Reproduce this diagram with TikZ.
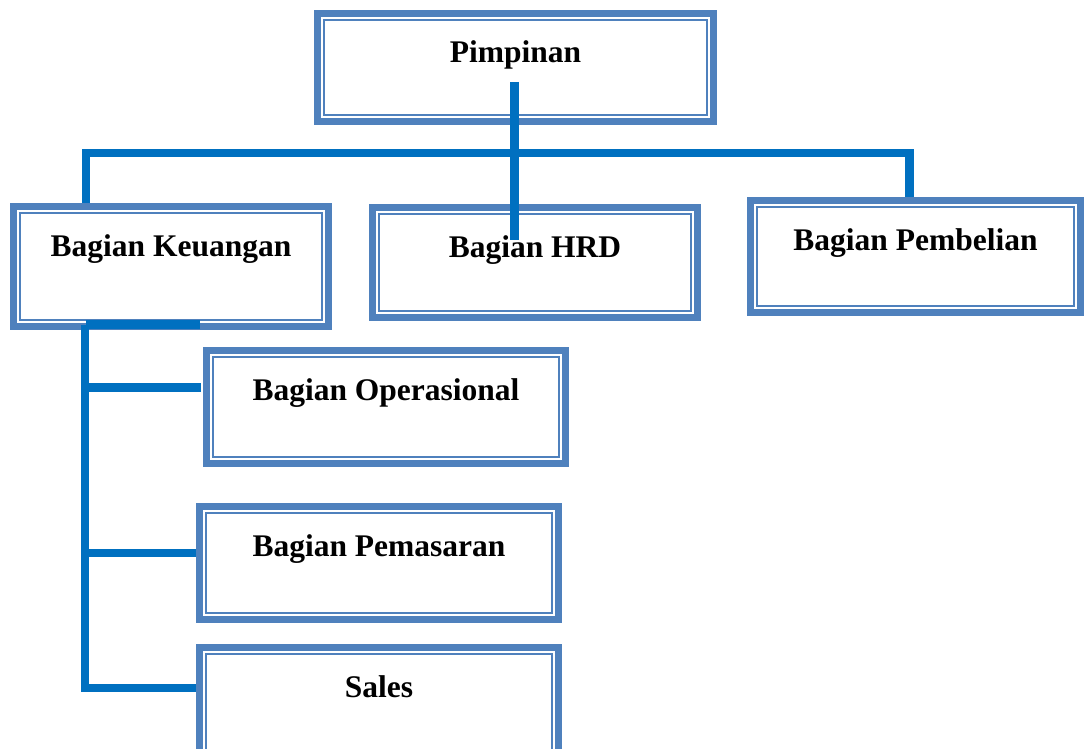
\documentclass[tikz,border=0pt]{standalone}
\usepackage{fontspec}
\setmainfont{Liberation Serif}
\usepackage{tikz}

\definecolor{boxblue}{HTML}{4F81BD}
\definecolor{lineblue}{HTML}{0070C0}

\begin{document}
\begin{tikzpicture}[x=1pt,y=-1pt,
  unit/.style={draw=boxblue,line width=7pt,fill=white,anchor=north west,inner sep=0pt,outer sep=0pt,
    text height=49.5pt,font=\bfseries\fontsize{31.5}{36}\selectfont,
    path picture={\draw[boxblue,line width=2pt]
      ([shift={(6.5pt,-6.5pt)}]path picture bounding box.north west) rectangle
      ([shift={(-6.5pt,6.5pt)}]path picture bounding box.south east);}},
  link/.style={draw=lineblue,line width=8.5pt}]

\useasboundingbox (0,0) rectangle (1085,749);

\node[unit,minimum width=396pt,text depth=58.5pt] (pimpinan) at (317.5,13.5) {Pimpinan};
\node[unit,minimum width=315pt,text depth=70.5pt] (keuangan) at (13.5,206.5) {Bagian Keuangan};
\node[unit,minimum width=325pt,text depth=60.5pt] (hrd) at (372.5,207.5) {Bagian HRD};
\node[unit,minimum width=330pt,text depth=62.5pt] (pembelian) at (750.5,200.5) {Bagian Pembelian};
\node[unit,minimum width=359pt,text depth=63.5pt] (operasional) at (206.5,350.5) {Bagian Operasional};
\node[unit,minimum width=359pt,text depth=63.5pt] (pemasaran) at (199.5,506.5) {Bagian Pemasaran};
\node[unit,minimum width=359pt,text depth=63.5pt] (sales) at (199.5,647.5) {Sales};

% garis pimpinan ke bagian
\draw[link,shorten <=3.5pt,shorten >=3.5pt] ([xshift=-85pt]keuangan.north)
  |- ([yshift=-31.5pt]pimpinan.south) -| ([xshift=-6pt]pembelian.north);
\draw[link] ([xshift=-1pt,yshift=-14.5pt]pimpinan.center) -- ([xshift=-20.5pt,yshift=-32.5pt]hrd.north);

% garis keuangan ke bawah
\draw[link] ([xshift=-85pt,yshift=2pt]keuangan.south) -- ([xshift=29pt,yshift=2pt]keuangan.south);
\draw[link,shorten >=3.5pt] ([xshift=-86pt,yshift=2pt]keuangan.south) |- ([yshift=16pt]sales.west);
\draw[link,shorten <=5.5pt] ([yshift=19.5pt]operasional.west) -- ++(-121.5pt,0);
\draw[link,shorten <=3.5pt] ([yshift=10pt]pemasaran.west) -- ++(-114.5pt,0);

\end{tikzpicture}
\end{document}
